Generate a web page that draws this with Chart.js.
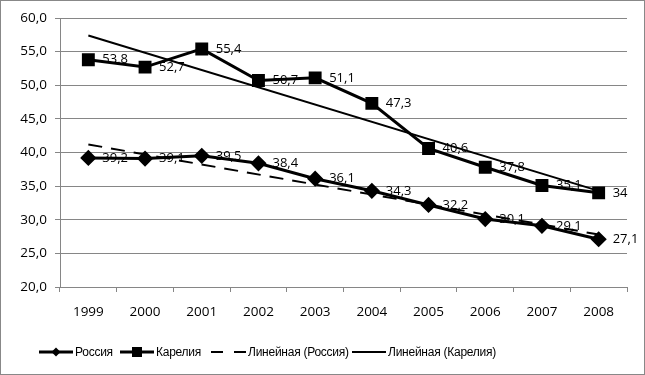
<!DOCTYPE html>
<html><head><meta charset="utf-8">
<script src="https://cdn.jsdelivr.net/npm/chart.js@4/dist/chart.umd.min.js"></script>
<style>
html,body{margin:0;padding:0;background:#fff;}
#wrap{position:relative;width:645px;height:375px;}
#c{position:absolute;left:0;top:0;}
#frame{position:absolute;left:0;top:0;width:645px;height:375px;box-sizing:border-box;border:1px solid #888;pointer-events:none;}
#legend{position:absolute;left:0;top:0;width:645px;height:375px;font:12px "Liberation Sans",sans-serif;letter-spacing:-0.25px;color:#000;}
#legend svg,#legend span{position:absolute;}
#legend span{top:344px;line-height:16px;white-space:nowrap;}
#legend svg{top:346px;}
</style></head>
<body>
<div id="wrap"><canvas id="c" width="645" height="375"></canvas><div id="frame"></div>
<div id="legend">
 <svg style="left:39px" width="34" height="12"><line x1="0" y1="6" x2="34" y2="6" stroke="#000" stroke-width="3"/><polygon points="17,1.5 21.5,6 17,10.5 12.5,6" fill="#000"/></svg><span style="left:75px">Россия</span>
 <svg style="left:120px" width="34" height="12"><line x1="0" y1="6" x2="34" y2="6" stroke="#000" stroke-width="3"/><rect x="12" y="1" width="10" height="10" fill="#000"/></svg><span style="left:156px">Карелия</span>
 <svg style="left:211px" width="36" height="12"><line x1="0" y1="6" x2="36" y2="6" stroke="#000" stroke-width="2" stroke-dasharray="12,11"/></svg><span style="left:248px">Линейная (Россия)</span>
 <svg style="left:352px" width="34" height="12"><line x1="0" y1="6" x2="34" y2="6" stroke="#000" stroke-width="2"/></svg><span style="left:388px">Линейная (Карелия)</span>
</div></div>
<script>
const years = ['1999','2000','2001','2002','2003','2004','2005','2006','2007','2008'];
const russia = [39.2, 39.1, 39.5, 38.4, 36.1, 34.3, 32.2, 30.1, 29.1, 27.1];
const karelia = [53.8, 52.7, 55.4, 50.7, 51.1, 47.3, 40.6, 37.8, 35.1, 34];
const russiaTrend = [41.2, null, null, null, null, null, null, null, null, 27.8];
const kareliaTrend = [57.4, null, null, null, null, null, null, null, null, 34.3];
const yTicks = [20, 25, 30, 35, 40, 45, 50, 55, 60];

const FONT = '"Open Sans", sans-serif';
const fmt = v => String(v).replace('.', ',');

const labelPlugin = {
  id: 'vals',
  afterDatasetsDraw(chart) {
    const ctx = chart.ctx;
    ctx.save();
    ctx.font = '13px ' + FONT;
    ctx.fillStyle = '#000';
    ctx.textBaseline = 'middle';
    ctx.textAlign = 'left';
    [0, 1].forEach(i => {
      const meta = chart.getDatasetMeta(i);
      meta.data.forEach((p, j) => {
        ctx.fillText(fmt(chart.data.datasets[i].data[j]), p.x + 14, p.y);
      });
    });
    ctx.restore();
  }
};

new Chart(document.getElementById('c'), {
  type: 'line',
  data: {
    labels: years,
    datasets: [
      {label: 'Россия', data: russia, borderColor: '#000', backgroundColor: '#000', borderWidth: 3,
       pointStyle: 'rectRot', pointRadius: 6, pointHoverRadius: 6, tension: 0, order: 3},
      {label: 'Карелия', data: karelia, borderColor: '#000', backgroundColor: '#000', borderWidth: 3,
       pointStyle: 'rect', pointRadius: 7, pointHoverRadius: 7, tension: 0, order: 2},
      {label: 'Линейная (Россия)', data: russiaTrend, borderColor: '#000', borderWidth: 2, borderDash: [14, 9],
       pointRadius: 0, spanGaps: true, tension: 0, order: 1},
      {label: 'Линейная (Карелия)', data: kareliaTrend, borderColor: '#000', borderWidth: 2,
       pointRadius: 0, spanGaps: true, tension: 0, order: 0}
    ]
  },
  options: {
    responsive: false,
    animation: false,
    events: [],
    layout: {padding: {left: 0, top: 18, right: 18, bottom: 48}},
    plugins: {legend: {display: false}, tooltip: {enabled: false}},
    scales: {
      x: {
        offset: true,
        grid: {display: true, drawOnChartArea: false, drawTicks: true, tickLength: 5, offset: true, color: '#868686'},
        border: {color: '#868686'},
        ticks: {color: '#000', font: {family: FONT, size: 13.5}, padding: 12, maxRotation: 0},
        afterFit(s) { s.height = 40; }
      },
      y: {
        min: 20, max: 60,
        afterBuildTicks(s) { s.ticks = yTicks.map(v => ({value: v})); },
        grid: {color: '#868686', tickLength: 5},
        border: {color: '#868686'},
        ticks: {color: '#000', font: {family: FONT, size: 13.5}, padding: 8,
                callback: v => v.toFixed(1).replace('.', ',')},
        afterFit(s) { s.width = 60; }
      }
    }
  },
  plugins: [labelPlugin]
});
</script>
</body></html>
